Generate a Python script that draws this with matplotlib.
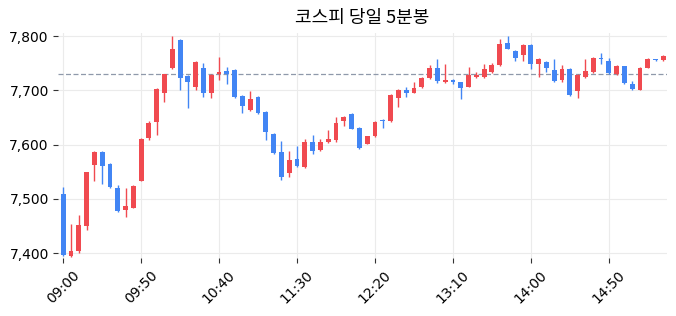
import matplotlib
matplotlib.use("Agg")
import matplotlib.pyplot as plt
import numpy as np

plt.rcParams['font.family'] = ['DejaVu Sans', 'Noto Sans CJK KR']

opens  = [7509, 7394, 7403, 7450, 7563, 7587, 7565, 7520, 7479, 7484,
          7533, 7612, 7642, 7695, 7741, 7792, 7727, 7707, 7742, 7696,
          7731, 7736, 7737, 7690, 7664, 7688, 7661, 7620, 7587, 7547,
          7574, 7558, 7604, 7590, 7604, 7609, 7643, 7657, 7631, 7602,
          7615, 7646, 7643, 7685, 7701, 7696, 7706, 7722, 7742, 7715,
          7720, 7715, 7707, 7724, 7724, 7733, 7746, 7787, 7773, 7765,
          7784, 7748, 7753, 7738, 7720, 7740, 7698, 7724, 7733, 7760,
          7755, 7731, 7744, 7711, 7701, 7742, 7757, 7756]
highs  = [7522, 7453, 7470, 7550, 7588, 7588, 7566, 7525, 7520, 7525,
          7612, 7643, 7704, 7731, 7800, 7795, 7728, 7754, 7750, 7730,
          7762, 7743, 7739, 7691, 7699, 7689, 7662, 7621, 7607, 7589,
          7597, 7610, 7618, 7610, 7627, 7651, 7653, 7658, 7632, 7616,
          7643, 7647, 7694, 7702, 7707, 7716, 7724, 7746, 7758, 7749,
          7721, 7716, 7743, 7734, 7748, 7750, 7794, 7800, 7774, 7785,
          7785, 7760, 7754, 7757, 7747, 7741, 7730, 7757, 7762, 7768,
          7760, 7746, 7745, 7717, 7743, 7760, 7757, 7765]
lows   = [7394, 7393, 7400, 7442, 7532, 7527, 7520, 7476, 7466, 7483,
          7532, 7609, 7618, 7678, 7740, 7700, 7668, 7700, 7688, 7686,
          7720, 7712, 7686, 7658, 7662, 7657, 7608, 7583, 7534, 7540,
          7558, 7557, 7583, 7589, 7603, 7604, 7634, 7628, 7592, 7601,
          7614, 7630, 7642, 7670, 7688, 7695, 7705, 7721, 7714, 7714,
          7712, 7684, 7706, 7722, 7723, 7732, 7745, 7776, 7755, 7754,
          7740, 7724, 7733, 7716, 7715, 7690, 7686, 7723, 7732, 7749,
          7731, 7728, 7711, 7701, 7700, 7741, 7755, 7755]
closes = [7397, 7404, 7452, 7549, 7587, 7560, 7522, 7477, 7486, 7524,
          7611, 7640, 7703, 7730, 7777, 7722, 7715, 7753, 7696, 7729,
          7734, 7731, 7687, 7672, 7684, 7658, 7623, 7585, 7541, 7572,
          7560, 7604, 7589, 7604, 7611, 7640, 7650, 7629, 7594, 7615,
          7642, 7643, 7691, 7701, 7696, 7705, 7723, 7742, 7718, 7720,
          7715, 7704, 7729, 7729, 7739, 7747, 7786, 7777, 7759, 7784,
          7748, 7758, 7741, 7717, 7740, 7691, 7729, 7736, 7760, 7758,
          7732, 7744, 7713, 7702, 7742, 7757, 7756, 7764]
prev_close = 7731
tick_labels = ["09:00", "09:50", "10:40", "11:30", "12:20", "13:10", "14:00", "14:50"]
tick_every = 10

up_color = '#f04a50'
down_color = '#4285f4'

fig = plt.figure(figsize=(6.76, 3.16), dpi=100)
ax = fig.add_axes([0.0865, 0.182, 0.8995, 0.714])

x = np.arange(len(opens))
o = np.array(opens); h = np.array(highs); l = np.array(lows); c = np.array(closes)
colors = [up_color if cc >= oo else down_color for oo, cc in zip(o, c)]

ax.vlines(x, l, h, colors=colors, linewidth=1.0, zorder=2)
body_bottom = np.minimum(o, c)
body_h = np.maximum(np.abs(c - o), 1.0)
ax.bar(x, body_h, bottom=body_bottom, width=0.62, color=colors, linewidth=0, zorder=3)

ax.axhline(prev_close, color='#8f99aa', linestyle=(0, (4, 2)), linewidth=0.9, zorder=1)

ax.set_xlim(-0.6, 77.4)
ax.set_ylim(7390, 7806)
ax.set_yticks([7400, 7500, 7600, 7700, 7800])
ax.set_yticklabels([f"{v:,}" for v in [7400, 7500, 7600, 7700, 7800]])
ax.set_xticks(x[::tick_every])
ax.set_xticklabels(tick_labels, rotation=45)

for s in ax.spines.values():
    s.set_visible(False)
ax.grid(True, color='#ebebeb', linewidth=0.8, zorder=0)
ax.set_axisbelow(True)
ax.tick_params(axis='both', labelsize=10, length=3.5, width=0.8, color='#333333')
ax.set_title("코스피 당일 5분봉", fontsize=13, pad=7, family=['Noto Sans CJK KR', 'DejaVu Sans'])

fig.savefig("out.png", dpi=100)
